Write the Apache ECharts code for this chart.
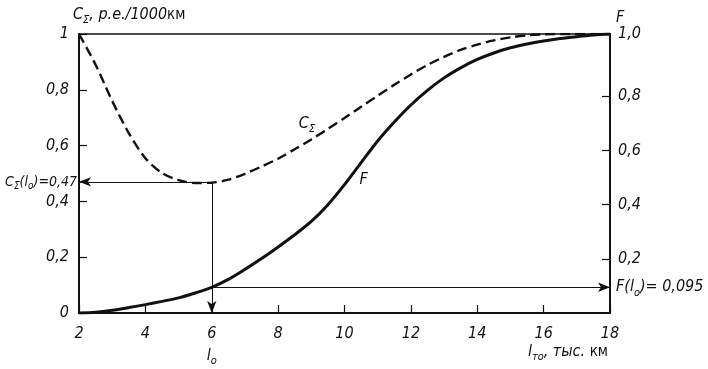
<!DOCTYPE html>
<html>
<head>
<meta charset="utf-8">
<script src="https://cdn.jsdelivr.net/npm/echarts@6/dist/echarts.min.js"></script>
<style>
html,body{margin:0;padding:0;background:#fff;}
#c{width:708px;height:369px;}
</style>
</head>
<body>
<div id="c"></div>
<script>
// ---- data ----
const lValues = [2,2.5,3,3.5,4,4.5,5,5.5,6,6.5,7,7.5,8,8.5,9,9.5,10,10.5,11,11.5,12,12.5,13,13.5,14,14.5,15,15.5,16,16.5,17,17.5,18];
const cSigma  = [1.0,0.89,0.76,0.645,0.555,0.502,0.476,0.466,0.467,0.478,0.499,0.525,0.553,0.587,0.622,0.660,0.699,0.739,0.779,0.818,0.855,0.889,0.918,0.943,0.962,0.977,0.988,0.995,0.999,1.0,1.0,1.0,1.0];
const fValues = [0,0.003,0.01,0.02,0.031,0.043,0.056,0.074,0.095,0.124,0.161,0.201,0.244,0.289,0.338,0.40,0.474,0.555,0.635,0.705,0.768,0.822,0.868,0.905,0.936,0.96,0.979,0.993,1.004,1.013,1.02,1.026,1.03];
const xTicks = [2,4,6,8,10,12,14,16,18];
const leftTicks = [0,0.2,0.4,0.6,0.8,1];
const rightTickValues = [0.2,0.4,0.6,0.8];
const rightLabelValues = [0.2,0.4,0.6,0.8,1.03];
const l0 = 6, c0 = 0.47, f0 = 0.095;

const FONT = "'Liberation Sans Narrow','DejaVu Sans Condensed','Liberation Sans',sans-serif";
const base = {fontFamily: FONT, fontStyle:'italic', fontSize:16, color:'#111'};
const rich = {
  i: {fontFamily: FONT, fontStyle:'italic', fontSize:16, color:'#111', lineHeight:22},
  n: {fontFamily: FONT, fontStyle:'normal', fontSize:15, color:'#111', lineHeight:22},
  s: {fontFamily: FONT, fontStyle:'italic', fontSize:11, color:'#111', lineHeight:12, verticalAlign:'bottom'},
  ic: {fontFamily: FONT, fontStyle:'italic', fontSize:14, color:'#111', lineHeight:20},
  sc: {fontFamily: FONT, fontStyle:'italic', fontSize:10, color:'#111', lineHeight:11, verticalAlign:'bottom'}
};
const comma = v => String(v).replace('.', ',');

const chart = echarts.init(document.getElementById('c'), null, {renderer:'canvas'});
chart.setOption({
  animation:false,
  backgroundColor:'#fff',
  grid:{left:79, right:98, top:34, bottom:56, show:true, borderColor:'#111', borderWidth:1.5},
  xAxis:{
    type:'value', min:2, max:18, interval:2,
    axisLine:{lineStyle:{color:'#111', width:2}},
    axisTick:{inside:true, length:8, lineStyle:{color:'#111', width:1.2}},
    splitLine:{show:false},
    axisLabel:{...base, margin:10, rich,
      formatter: v => xTicks.includes(v) ? (v === l0 ? '{i|' + v + '}\n{i|l}{s|o}' : '{i|' + v + '}') : ''},
    name:'{i|l}{s|то}{i|, тыс.} {n|км}', nameLocation:'end', nameGap:-2,
    nameTextStyle:{...base, rich, align:'right', verticalAlign:'top', padding:[28,0,0,0]}
  },
  yAxis:[{
    type:'value', min:0, max:1, interval:0.2,
    axisLine:{show:true, lineStyle:{color:'#111', width:2}},
    axisTick:{inside:true, length:8, lineStyle:{color:'#111', width:1.2}},
    splitLine:{show:false},
    axisLabel:{...base, margin:10, formatter: v => leftTicks.includes(v) ? comma(v) : ''},
    name:'{i|C}{s|Σ}{i|, р.е./1000}{n|км}', nameLocation:'end', nameGap:8,
    nameTextStyle:{...base, rich, align:'left', padding:[0,0,0,-6]}
  },{
    type:'value', min:0, max:1.03, position:'right',
    axisLine:{show:true, lineStyle:{color:'#111', width:2}},
    axisTick:{inside:true, length:8, customValues: rightTickValues, lineStyle:{color:'#111', width:1.2}},
    splitLine:{show:false},
    axisLabel:{...base, margin:8, customValues: rightLabelValues,
      formatter: v => v >= 1 ? '1,0' : v.toFixed(1).replace('.', ',')},
    name:'F', nameLocation:'end', nameGap:8,
    nameTextStyle:{...base, align:'left', padding:[0,0,0,6]}
  }],
  series:[{
    name:'Cσ', type:'line', yAxisIndex:0, smooth:0.3, symbol:'none',
    data: lValues.map((x,i)=>[x, cSigma[i]]),
    lineStyle:{color:'#111', width:2.4, type:[10,5]},
    markLine:{
      silent:true, symbol:['none','arrow'], symbolSize:[7,12],
      lineStyle:{color:'#111', width:1, type:'solid'},
      data:[
        [{coord:[l0,c0], label:{show:true}}, {coord:[2,c0]}],
        [{coord:[l0,c0], label:{show:false}}, {coord:[l0,0], label:{show:false}}]
      ],
      label:{show:true, position:'end', distance:2, ...base, rich,
        formatter: p => p.dataIndex === 0 ? '{ic|C}{sc|Σ}{ic|(l}{sc|o}{ic|)=0,47}' : ''}
    },
    markPoint:{
      silent:true, symbol:'circle', symbolSize:0,
      data:[{coord:[8.87, 0.677]}],
      label:{show:true, position:'inside', ...base, rich, formatter:'{i|C}{s|Σ}'}
    }
  },{
    name:'F', type:'line', yAxisIndex:1, smooth:0.3, symbol:'none',
    data: lValues.map((x,i)=>[x, fValues[i]]),
    lineStyle:{color:'#111', width:3},
    markLine:{
      silent:true, symbol:['none','arrow'], symbolSize:[7,12],
      lineStyle:{color:'#111', width:1, type:'solid'},
      data:[[{coord:[l0,f0]}, {coord:[18,f0]}]],
      label:{show:true, position:'end', distance:6, ...base, rich,
        formatter:'{i|F(l}{s|o}{i|)= 0,095}'}
    },
    markPoint:{
      silent:true, symbol:'circle', symbolSize:0,
      data:[{coord:[10.58, 0.49]}],
      label:{show:true, position:'inside', ...base, formatter:'F'}
    }
  }]
});
</script>
</body>
</html>
